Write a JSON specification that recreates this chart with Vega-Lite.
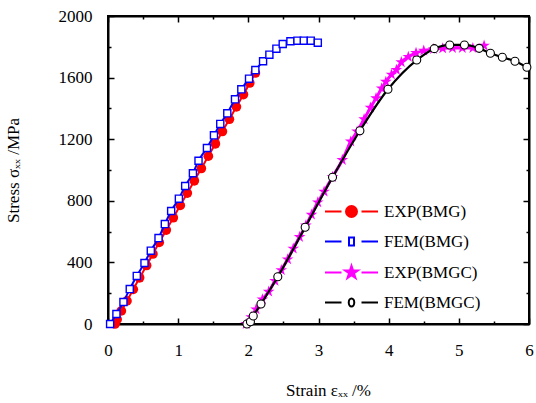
{
  "$schema": "https://vega.github.io/schema/vega-lite/v6.json",
  "width": 421,
  "height": 308,
  "autosize": {"type": "none"},
  "padding": {"left": 108, "top": 16, "right": 7, "bottom": 79},
  "background": "white",
  "config": {
    "view": {"stroke": "black", "strokeWidth": 2},
    "font": "Liberation Serif",
    "axis": {"labelFont": "Liberation Serif", "titleFont": "Liberation Serif"},
    "legend": {"labelFont": "Liberation Serif"}
  },
  "data": {
    "values": [
      {"series": "EXP(BMG)", "strain": 0.10, "stress": 0},
      {"series": "EXP(BMG)", "strain": 0.13, "stress": 30},
      {"series": "EXP(BMG)", "strain": 0.19, "stress": 85},
      {"series": "EXP(BMG)", "strain": 0.27, "stress": 150},
      {"series": "EXP(BMG)", "strain": 0.36, "stress": 225},
      {"series": "EXP(BMG)", "strain": 0.45, "stress": 300},
      {"series": "EXP(BMG)", "strain": 0.55, "stress": 380},
      {"series": "EXP(BMG)", "strain": 0.64, "stress": 455},
      {"series": "EXP(BMG)", "strain": 0.73, "stress": 530},
      {"series": "EXP(BMG)", "strain": 0.83, "stress": 610},
      {"series": "EXP(BMG)", "strain": 0.93, "stress": 690},
      {"series": "EXP(BMG)", "strain": 1.03, "stress": 770},
      {"series": "EXP(BMG)", "strain": 1.13, "stress": 850},
      {"series": "EXP(BMG)", "strain": 1.23, "stress": 930},
      {"series": "EXP(BMG)", "strain": 1.33, "stress": 1010},
      {"series": "EXP(BMG)", "strain": 1.43, "stress": 1090},
      {"series": "EXP(BMG)", "strain": 1.53, "stress": 1170},
      {"series": "EXP(BMG)", "strain": 1.63, "stress": 1250},
      {"series": "EXP(BMG)", "strain": 1.73, "stress": 1330},
      {"series": "EXP(BMG)", "strain": 1.83, "stress": 1410},
      {"series": "EXP(BMG)", "strain": 1.93, "stress": 1490},
      {"series": "EXP(BMG)", "strain": 2.02, "stress": 1565},
      {"series": "EXP(BMG)", "strain": 2.10, "stress": 1630},
      {"series": "FEM(BMG)", "strain": 0.03, "stress": 0},
      {"series": "FEM(BMG)", "strain": 0.12, "stress": 65},
      {"series": "FEM(BMG)", "strain": 0.22, "stress": 143},
      {"series": "FEM(BMG)", "strain": 0.31, "stress": 227},
      {"series": "FEM(BMG)", "strain": 0.41, "stress": 312},
      {"series": "FEM(BMG)", "strain": 0.52, "stress": 396},
      {"series": "FEM(BMG)", "strain": 0.61, "stress": 476},
      {"series": "FEM(BMG)", "strain": 0.72, "stress": 558},
      {"series": "FEM(BMG)", "strain": 0.81, "stress": 649},
      {"series": "FEM(BMG)", "strain": 0.90, "stress": 734},
      {"series": "FEM(BMG)", "strain": 1.01, "stress": 814},
      {"series": "FEM(BMG)", "strain": 1.10, "stress": 896},
      {"series": "FEM(BMG)", "strain": 1.21, "stress": 979},
      {"series": "FEM(BMG)", "strain": 1.29, "stress": 1060},
      {"series": "FEM(BMG)", "strain": 1.41, "stress": 1143},
      {"series": "FEM(BMG)", "strain": 1.51, "stress": 1225},
      {"series": "FEM(BMG)", "strain": 1.60, "stress": 1299},
      {"series": "FEM(BMG)", "strain": 1.70, "stress": 1368},
      {"series": "FEM(BMG)", "strain": 1.81, "stress": 1459},
      {"series": "FEM(BMG)", "strain": 1.90, "stress": 1524},
      {"series": "FEM(BMG)", "strain": 2.01, "stress": 1593},
      {"series": "FEM(BMG)", "strain": 2.10, "stress": 1649},
      {"series": "FEM(BMG)", "strain": 2.21, "stress": 1706},
      {"series": "FEM(BMG)", "strain": 2.30, "stress": 1749},
      {"series": "FEM(BMG)", "strain": 2.40, "stress": 1788},
      {"series": "FEM(BMG)", "strain": 2.49, "stress": 1818},
      {"series": "FEM(BMG)", "strain": 2.60, "stress": 1836},
      {"series": "FEM(BMG)", "strain": 2.70, "stress": 1840},
      {"series": "FEM(BMG)", "strain": 2.79, "stress": 1840},
      {"series": "FEM(BMG)", "strain": 2.89, "stress": 1840},
      {"series": "FEM(BMG)", "strain": 2.99, "stress": 1827},
      {"series": "EXP(BMGC)", "strain": 1.97, "stress": 0},
      {"series": "EXP(BMGC)", "strain": 2.04, "stress": 45},
      {"series": "EXP(BMGC)", "strain": 2.11, "stress": 95},
      {"series": "EXP(BMGC)", "strain": 2.20, "stress": 160},
      {"series": "EXP(BMGC)", "strain": 2.29, "stress": 210},
      {"series": "EXP(BMGC)", "strain": 2.38, "stress": 280},
      {"series": "EXP(BMGC)", "strain": 2.47, "stress": 350},
      {"series": "EXP(BMGC)", "strain": 2.56, "stress": 420},
      {"series": "EXP(BMGC)", "strain": 2.64, "stress": 490},
      {"series": "EXP(BMGC)", "strain": 2.73, "stress": 565},
      {"series": "EXP(BMGC)", "strain": 2.82, "stress": 640},
      {"series": "EXP(BMGC)", "strain": 2.90, "stress": 710},
      {"series": "EXP(BMGC)", "strain": 2.99, "stress": 790},
      {"series": "EXP(BMGC)", "strain": 3.08, "stress": 860},
      {"series": "EXP(BMGC)", "strain": 3.20, "stress": 955},
      {"series": "EXP(BMGC)", "strain": 3.34, "stress": 1065},
      {"series": "EXP(BMGC)", "strain": 3.46, "stress": 1185},
      {"series": "EXP(BMGC)", "strain": 3.55, "stress": 1250},
      {"series": "EXP(BMGC)", "strain": 3.65, "stress": 1330},
      {"series": "EXP(BMGC)", "strain": 3.74, "stress": 1405},
      {"series": "EXP(BMGC)", "strain": 3.82, "stress": 1466},
      {"series": "EXP(BMGC)", "strain": 3.90, "stress": 1530},
      {"series": "EXP(BMGC)", "strain": 3.96, "stress": 1573},
      {"series": "EXP(BMGC)", "strain": 4.04, "stress": 1620},
      {"series": "EXP(BMGC)", "strain": 4.11, "stress": 1650},
      {"series": "EXP(BMGC)", "strain": 4.18, "stress": 1700},
      {"series": "EXP(BMGC)", "strain": 4.28, "stress": 1735},
      {"series": "EXP(BMGC)", "strain": 4.39, "stress": 1760},
      {"series": "EXP(BMGC)", "strain": 4.50, "stress": 1775},
      {"series": "EXP(BMGC)", "strain": 4.64, "stress": 1785},
      {"series": "EXP(BMGC)", "strain": 4.77, "stress": 1790},
      {"series": "EXP(BMGC)", "strain": 4.91, "stress": 1792},
      {"series": "EXP(BMGC)", "strain": 5.05, "stress": 1792},
      {"series": "EXP(BMGC)", "strain": 5.20, "stress": 1792},
      {"series": "EXP(BMGC)", "strain": 5.36, "stress": 1808},
      {"series": "FEM(BMGC)", "strain": 1.98, "stress": 0},
      {"series": "FEM(BMGC)", "strain": 2.03, "stress": 15},
      {"series": "FEM(BMGC)", "strain": 2.07, "stress": 52},
      {"series": "FEM(BMGC)", "strain": 2.18, "stress": 130},
      {"series": "FEM(BMGC)", "strain": 2.42, "stress": 307},
      {"series": "FEM(BMGC)", "strain": 2.81, "stress": 628},
      {"series": "FEM(BMGC)", "strain": 3.20, "stress": 953},
      {"series": "FEM(BMGC)", "strain": 3.59, "stress": 1255},
      {"series": "FEM(BMGC)", "strain": 3.99, "stress": 1524},
      {"series": "FEM(BMGC)", "strain": 4.40, "stress": 1714},
      {"series": "FEM(BMGC)", "strain": 4.65, "stress": 1788},
      {"series": "FEM(BMGC)", "strain": 4.87, "stress": 1812},
      {"series": "FEM(BMGC)", "strain": 5.08, "stress": 1812},
      {"series": "FEM(BMGC)", "strain": 5.29, "stress": 1790},
      {"series": "FEM(BMGC)", "strain": 5.45, "stress": 1758},
      {"series": "FEM(BMGC)", "strain": 5.62, "stress": 1732},
      {"series": "FEM(BMGC)", "strain": 5.80, "stress": 1706},
      {"series": "FEM(BMGC)", "strain": 5.97, "stress": 1667}
    ]
  },
  "layer": [
    {
      "transform": [{"filter": "datum.series === 'EXP(BMG)'"}],
      "mark": {"type": "line", "strokeWidth": 2, "interpolate": "monotone"},
      "encoding": {
        "x": {
          "field": "strain", "type": "quantitative",
          "scale": {"domain": [0, 6], "nice": false},
          "axis": {
            "orient": "bottom",
            "values": [0, 0.5, 1, 1.5, 2, 2.5, 3, 3.5, 4, 4.5, 5, 5.5, 6],
            "labelExpr": "datum.value % 1 ? '' : format(datum.value, 'd')",
            "labelOverlap": false, "labelFlush": false,
            "labelFont": "Liberation Serif", "labelFontSize": 17, "labelColor": "black",
            "labelPadding": 24,
            "tickSize": {"condition": {"test": "datum.value % 1 === 0", "value": -6}, "value": -3},
            "tickColor": "black", "tickWidth": 1.5,
            "domainColor": "black", "domainWidth": 2, "grid": false,
            "title": "Strain  εₓₓ /%",
            "titleX": 220,
            "titleFont": "Liberation Serif", "titleFontSize": 17, "titleFontWeight": "normal", "titleColor": "black",
            "titlePadding": 21
          }
        },
        "y": {
          "field": "stress", "type": "quantitative",
          "scale": {"domain": [0, 2000], "nice": false},
          "axis": {
            "orient": "left",
            "values": [0, 200, 400, 600, 800, 1000, 1200, 1400, 1600, 1800, 2000],
            "format": "d",
            "labelExpr": "datum.value % 400 ? '' : format(datum.value, 'd')",
            "labelOverlap": false, "labelFlush": false,
            "labelFont": "Liberation Serif", "labelFontSize": 17, "labelColor": "black",
            "labelPadding": 22,
            "tickSize": {"condition": {"test": "datum.value % 400 === 0", "value": -6}, "value": -3},
            "tickColor": "black", "tickWidth": 1.5,
            "domainColor": "black", "domainWidth": 2, "grid": false,
            "title": "Stress σₓₓ /MPa",
            "titleFont": "Liberation Serif", "titleFontSize": 17, "titleFontWeight": "normal", "titleColor": "black",
            "titlePadding": 36
          }
        },
        "color": {
          "field": "series", "type": "nominal",
          "scale": {
            "domain": ["EXP(BMG)", "FEM(BMG)", "EXP(BMGC)", "FEM(BMGC)"],
            "range": ["#ff0000", "#0000ff", "#ff00ff", "#000000"]
          },
          "legend": {
            "title": null,
            "orient": "none",
            "legendX": 217,
            "legendY": 187,
            "padding": 0,
            "symbolSize": 100,
            "symbolOffset": 18,
            "labelOffset": 24,
            "rowPadding": 11,
            "labelFont": "Liberation Serif", "labelFontSize": 17, "labelColor": "black",
            "labelLimit": 200,
            "encode": {
              "symbols": {
                "update": {
                  "shape": {"signal": "datum.value === 'EXP(BMG)' ? 'M-5.3,0H-2M2,0H5.3M1.1,0A1.1,1.1,0,1,1,-1.1,0A1.1,1.1,0,1,1,1.1,0Z' : datum.value === 'FEM(BMG)' ? 'M-5.3,0H-2M2,0H5.3M-0.5,-0.8H0.5V0.8H-0.5Z' : datum.value === 'EXP(BMGC)' ? 'M-5.3,0H-2M2,0H5.3M0,-1.36L0.306,-0.421L1.293,-0.42L0.495,0.161L0.799,1.1L0,0.52L-0.799,1.1L-0.495,0.161L-1.293,-0.42L-0.306,-0.421Z' : 'M-5.3,0H-2M2,0H5.3M0.55,0A0.55,0.8,0,1,1,-0.55,0A0.55,0.8,0,1,1,0.55,0Z'"},
                  "fill": {"signal": "datum.value === 'EXP(BMG)' ? '#ff0000' : datum.value === 'EXP(BMGC)' ? '#ff00ff' : 'white'"},
                  "stroke": {"signal": "datum.value === 'EXP(BMG)' ? '#ff0000' : datum.value === 'FEM(BMG)' ? '#0000ff' : datum.value === 'EXP(BMGC)' ? '#ff00ff' : '#000000'"},
                  "strokeWidth": {"value": 2},
                  "opacity": {"value": 1},
                  "fillOpacity": {"value": 1},
                  "strokeOpacity": {"value": 1}
                }
              }
            }
          }
        }
      }
    },
    {
      "transform": [{"filter": "datum.series === 'EXP(BMG)'"}],
      "mark": {"type": "point", "shape": "circle", "filled": true, "color": "#ff0000", "opacity": 1, "size": 95},
      "encoding": {
        "x": {
          "field": "strain", "type": "quantitative",
          "axis": {
            "orient": "top",
            "values": [0, 0.5, 1, 1.5, 2, 2.5, 3, 3.5, 4, 4.5, 5, 5.5, 6],
            "labels": false, "title": null,
            "tickSize": {"condition": {"test": "datum.value % 1 === 0", "value": -6}, "value": -3},
            "tickColor": "black", "tickWidth": 1.5,
            "domainColor": "black", "domainWidth": 2, "grid": false
          }
        },
        "y": {
          "field": "stress", "type": "quantitative",
          "axis": {
            "orient": "right",
            "values": [0, 200, 400, 600, 800, 1000, 1200, 1400, 1600, 1800, 2000],
            "labels": false, "title": null,
            "tickSize": {"condition": {"test": "datum.value % 400 === 0", "value": -6}, "value": -3},
            "tickColor": "black", "tickWidth": 1.5,
            "domainColor": "black", "domainWidth": 2, "grid": false
          }
        }
      }
    },
    {
      "transform": [{"filter": "datum.series === 'FEM(BMG)'"}],
      "mark": {"type": "line", "strokeWidth": 2, "interpolate": "monotone"},
      "encoding": {
        "x": {"field": "strain", "type": "quantitative", "axis": null},
        "y": {"field": "stress", "type": "quantitative", "axis": null},
        "color": {"field": "series", "type": "nominal", "legend": null}
      }
    },
    {
      "transform": [{"filter": "datum.series === 'FEM(BMG)'"}],
      "mark": {"type": "point", "shape": "square", "filled": false, "fill": "white", "fillOpacity": 1, "stroke": "#0000ff", "strokeWidth": 1.4, "opacity": 1, "size": 50},
      "encoding": {
        "x": {"field": "strain", "type": "quantitative", "axis": null},
        "y": {"field": "stress", "type": "quantitative", "axis": null}
      }
    },
    {
      "transform": [{"filter": "datum.series === 'EXP(BMGC)'"}],
      "mark": {"type": "line", "strokeWidth": 3, "interpolate": "monotone"},
      "encoding": {
        "x": {"field": "strain", "type": "quantitative", "axis": null},
        "y": {"field": "stress", "type": "quantitative", "axis": null},
        "color": {"field": "series", "type": "nominal", "legend": null}
      }
    },
    {
      "transform": [{"filter": "datum.series === 'EXP(BMGC)'"}],
      "mark": {"type": "point", "shape": "M0,-1L0.2245,-0.309L0.951,-0.309L0.363,0.118L0.588,0.809L0,0.382L-0.588,0.809L-0.363,0.118L-0.951,-0.309L-0.2245,-0.309Z", "filled": true, "color": "#ff00ff", "opacity": 1, "size": 150},
      "encoding": {
        "x": {"field": "strain", "type": "quantitative", "axis": null},
        "y": {"field": "stress", "type": "quantitative", "axis": null}
      }
    },
    {
      "transform": [{"filter": "datum.series === 'FEM(BMGC)'"}],
      "mark": {"type": "line", "strokeWidth": 2.2, "interpolate": "monotone"},
      "encoding": {
        "x": {"field": "strain", "type": "quantitative", "axis": null},
        "y": {"field": "stress", "type": "quantitative", "axis": null},
        "color": {"field": "series", "type": "nominal", "legend": null}
      }
    },
    {
      "transform": [{"filter": "datum.series === 'FEM(BMGC)'"}],
      "mark": {"type": "point", "shape": "circle", "filled": false, "fill": "white", "fillOpacity": 1, "stroke": "#000000", "strokeWidth": 1.1, "opacity": 1, "size": 64},
      "encoding": {
        "x": {"field": "strain", "type": "quantitative", "axis": null},
        "y": {"field": "stress", "type": "quantitative", "axis": null}
      }
    }
  ]
}
